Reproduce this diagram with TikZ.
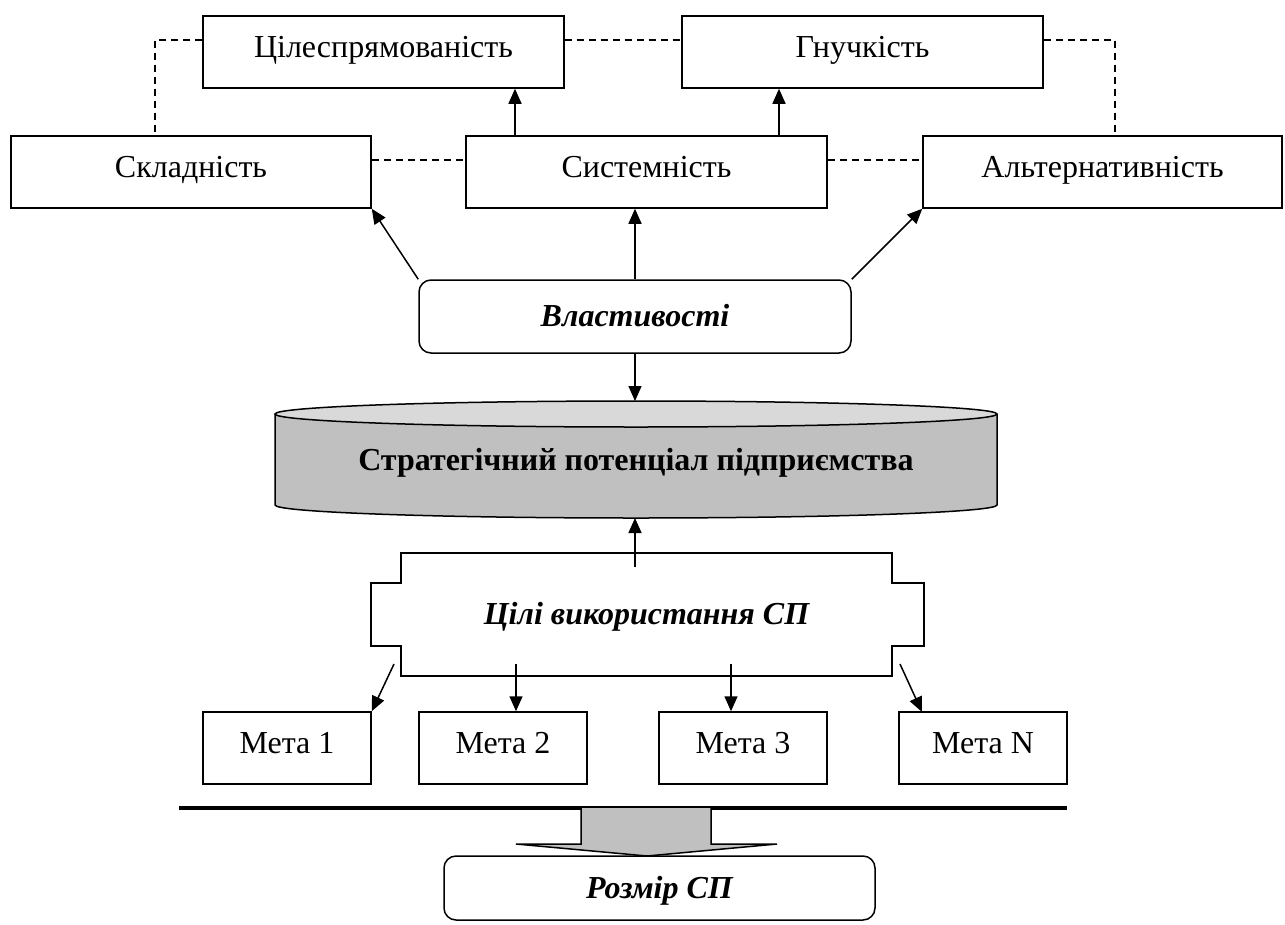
\documentclass[tikz,border=0pt]{standalone}
\usepackage{fontspec}
\setmainfont{Liberation Serif}
\usetikzlibrary{arrows.meta}
\definecolor{cylbody}{RGB}{192,192,192}
\definecolor{cyltop}{RGB}{217,217,217}
\begin{document}
\begin{tikzpicture}[x=1pt,y=-1pt,
  every node/.style={font=\fontsize{32}{38}\selectfont,text height=21pt,text depth=11pt},
  lw/.style={line width=1.5pt},
  box/.style={draw,lw,inner sep=0pt,minimum height=72pt,fill=white},
  rbox/.style={draw,lw,inner sep=0pt,rounded corners=12pt,fill=white},
  lowtxt/.style={text height=24pt,text depth=4pt},
  dsh/.style={lw,dash pattern=on 7pt off 5pt},
  arr/.style={lw,-{Triangle[length=15pt,width=13pt]}}]
\useasboundingbox (0,0) rectangle (1285,924);

% top row
\node[box,minimum width=361pt] (cel) at (383.5,52) {Цілеспрямованість};
\node[box,minimum width=361pt] (gnu) at (862.5,52) {Гнучкість};
% second row
\node[box,minimum width=360pt] (skl) at (191,172) {Складність};
\node[box,minimum width=361pt] (sys) at (646.5,172) {Системність};
\node[box,minimum width=359pt] (alt) at (1102.5,172) {Альтернативність};

% dashed links
\draw[dsh] ([yshift=12pt]cel.west) -| ([xshift=-36pt]skl.north);
\draw[dsh] ([yshift=12pt]cel.east) -- ([yshift=12pt]gnu.west);
\draw[dsh] ([yshift=12pt]gnu.east) -| ([xshift=12.5pt]alt.north);
\draw[dsh] ([yshift=12pt]skl.east) -- ([yshift=12pt]sys.west);
\draw[dsh] ([yshift=12pt]sys.east) -- ([yshift=12pt]alt.west);

% arrows system -> top
\coordinate (s1) at ([xshift=-131.5pt]sys.north);
\coordinate (s2) at ([xshift=132.5pt]sys.north);
\draw[arr] (s1) -- (s1 |- cel.south);
\draw[arr] (s2) -- (s2 |- gnu.south);

% properties
\node[rbox,lowtxt,minimum width=432pt,minimum height=73pt] (vl) at (635,316.5) {\bfseries\itshape Властивості};
\draw[arr] (vl.north west) -- (skl.south east);
\draw[arr] (vl.north) -- (vl.north |- sys.south);
\draw[arr] (vl.north east) -- (alt.south west);

% cylinder
\fill[cylbody] (275,414) -- (275,505) arc[start angle=180,end angle=0,x radius=361,y radius=13] -- (997,414) -- cycle;
\draw[lw] (275,414) -- (275,505) arc[start angle=180,end angle=0,x radius=361,y radius=13] -- (997,414);
\draw[lw,fill=cyltop] (636,414) ellipse [x radius=361,y radius=13];
\node (cyl) at (636,465) {\bfseries Стратегічний потенціал підприємства};
\coordinate (cyltopc) at (636,401);
\coordinate (cylbot) at (635,518);
\draw[arr] (vl.south) -- (vl.south |- cyltopc);

% goals shape
\draw[lw] (401,553) -- (892,553) -- (892,583) -- (924,583) -- (924,646) -- (892,646) -- (892,676) -- (401,676) -- (401,646) -- (371,646) -- (371,583) -- (401,583) -- cycle;
\node[lowtxt] (cili) at (646.5,614.5) {\bfseries\itshape Цілі використання СП};
\coordinate (cup) at (635,567);
\draw[arr] (cup) -- (cylbot);

% goals
\node[box,minimum width=168pt] (m1) at (287,748) {Мета 1};
\node[box,minimum width=168pt] (m2) at (503,748) {Мета 2};
\node[box,minimum width=168pt] (m3) at (743,748) {Мета 3};
\node[box,minimum width=168pt] (mN) at (983,748) {Мета N};

\coordinate (c1) at (394,664);
\coordinate (c2) at (516,664);
\coordinate (c3) at (731,664);
\coordinate (c4) at (900,664);
\coordinate (e4) at (922,712);
\draw[arr] (c1) -- (m1.north east);
\draw[arr] (c2) -- (c2 |- m2.north);
\draw[arr] (c3) -- (c3 |- m3.north);
\draw[arr] (c4) -- (e4);

% thick line and block arrow
\coordinate (l1) at (179,808);
\coordinate (l2) at (1067,808);
\draw[line width=3.5pt] (l1) -- (l2);
\draw[lw,fill=cylbody] (581,808) -- (581,844) -- (516,844) -- (647,856) -- (777,844) -- (711,844) -- (711,808);

\node[rbox,lowtxt,minimum width=431pt,minimum height=64pt] (roz) at (659.5,888) {\bfseries\itshape Розмір СП};
\end{tikzpicture}
\end{document}
